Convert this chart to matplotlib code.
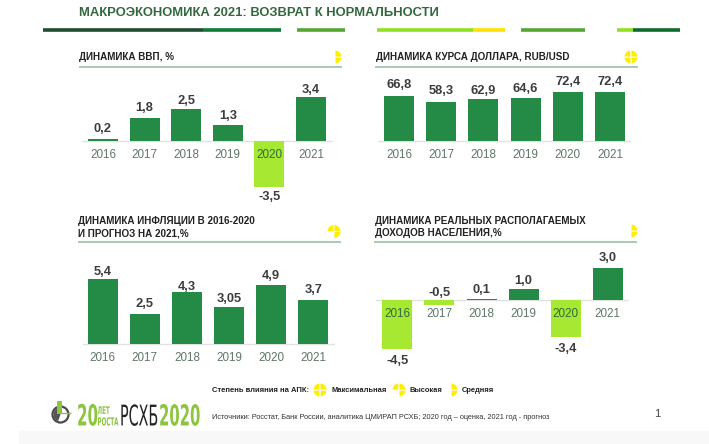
import matplotlib
matplotlib.use('Agg')
import matplotlib.pyplot as plt
import matplotlib.patheffects as pe
from matplotlib.patches import Wedge, Circle, Rectangle
from matplotlib.transforms import Affine2D

W, H = 709, 444

years = ['2016', '2017', '2018', '2019', '2020', '2021']
gdp = [0.2, 1.8, 2.5, 1.3, -3.5, 3.4]
usd = [66.8, 58.3, 62.9, 64.6, 72.4, 72.4]
inflation = [5.4, 2.5, 4.3, 3.05, 4.9, 3.7]
income = [-4.5, -0.5, 0.1, 1.0, -3.4, 3.0]

# сдвиг подписи от конца столбика, пиксели (плюс - вверх)
gdp_gaps = [10, 10, 7.6, 9, -10, 7]
usd_gaps = [10.6, 10.7, 7.7, 8.7, 10.3, 10.3]
inflation_gaps = [7.5, 10, 5.5, 8, 9, 10]
income_gaps = [-12, 12.7, 8.7, 8.3, -12, 10]

GREEN = '#238b45'
LIME = '#a6e832'
YELLOW = '#ffee00'
TXT = '#3c3c3c'
YEARC = '#5f7768'
HEAD = '#222222'

plt.rcParams['font.family'] = ['Liberation Sans', 'DejaVu Sans']

fig = plt.figure(figsize=(W / 100, H / 100), dpi=100, facecolor='white')

# слой в пикселях для заголовков, линеек и значков
bg = fig.add_axes([0, 0, 1, 1])
bg.set_xlim(0, W)
bg.set_ylim(H, 0)
bg.axis('off')


class StretchY(pe.AbstractPathEffect):
    # растягивает буквы по вертикали от базовой линии
    def __init__(self, y, k):
        super().__init__()
        self.y0 = H - y
        self.k = k

    def draw_path(self, renderer, gc, tpath, affine, rgbFace=None):
        stretch = Affine2D().translate(0, -self.y0).scale(1, self.k).translate(0, self.y0)
        renderer.draw_path(gc, tpath, affine + stretch, rgbFace)


def rule(x0, x1, y, color, lw=2.6):
    bg.plot([x0, x1], [y, y], color=color, lw=lw, solid_capstyle='butt')


def badge(x, y, quarters, r=7):
    # quarters: углы начала закрашенных четвертей
    for a in quarters:
        bg.add_patch(Wedge((x, y), r, a, a + 90, fc=YELLOW, ec='white', lw=0.7))


def logo_text(x, y, s, size, color, k, weight='bold'):
    bg.text(x, y, s, fontsize=size, color=color, fontweight=weight, va='baseline',
            family='Liberation Sans Narrow', path_effects=[StretchY(y, k)])


def panel(vals, gaps, x0, step, base, scale, line):
    # оси ставятся так, чтобы одна единица значения занимала scale пикселей
    top, bottom = 90, 70
    left, right = line
    ax = fig.add_axes([left / W, 1 - (base + bottom) / H, (right - left) / W, (top + bottom) / H])
    ax.set_ylim(-bottom / scale, top / scale)
    ax.set_xlim((left - x0) / step, (right - x0) / step)
    ax.axis('off')
    ax.patch.set_alpha(0)
    xs = range(len(vals))
    colors = [GREEN if v > 0 else LIME for v in vals]
    ax.bar(xs, vals, width=30 / step, color=colors, zorder=2)
    ax.axhline(0, color='#dfe3df', lw=1, zorder=1)
    for i, v in enumerate(vals):
        lab = str(v).replace('.', ',')
        ax.annotate(lab, (i, v), xytext=(0, gaps[i] * 0.72), textcoords='offset points', ha='center', va='center',
                    fontsize=9.3, fontweight='bold', color=TXT, annotation_clip=False)
        ax.annotate(years[i], (i, 0), xytext=(0, -14 * 0.72), textcoords='offset points', ha='center', va='center',
                    fontsize=8.4, color='#2f6b3c' if v < -1 else YEARC, zorder=3, annotation_clip=False)
    return ax


panel(gdp, gdp_gaps, 103, 41.6, 141.5, 13, (82, 333))
panel(usd, usd_gaps, 399, 42.2, 141.5, 0.68, (378, 631))
panel(inflation, inflation_gaps, 102.7, 42.1, 344, 12, (82.7, 335))
panel(income, income_gaps, 397.3, 42.1, 300, 10.8, (375.7, 629))

# шапка
bg.text(79, 13, 'МАКРОЭКОНОМИКА 2021: ВОЗВРАТ К НОРМАЛЬНОСТИ', fontsize=9.4, fontweight='bold',
        color='#33683f', va='center')
rule(43, 203, 30.5, '#1f4d30')
rule(203, 281, 30.5, '#0f7a35')
rule(297, 345, 30.5, '#55a630')
rule(377, 473, 30.5, '#8fe020')
rule(473, 505, 30.5, '#ffe000')
rule(521, 585, 30.5, '#55a630')
rule(617, 633, 30.5, '#8fe020')
rule(633, 680, 30.5, '#0f6b2d')

# заголовки панелей
for x, y, s in [(79, 57.5, 'ДИНАМИКА ВВП, %'),
                (376, 57.5, 'ДИНАМИКА КУРСА ДОЛЛАРА, RUB/USD'),
                (78, 220.5, 'ДИНАМИКА ИНФЛЯЦИИ В 2016-2020'),
                (78, 233, 'И ПРОГНОЗ НА 2021,%'),
                (375, 220.5, 'ДИНАМИКА РЕАЛЬНЫХ РАСПОЛАГАЕМЫХ'),
                (375, 233, 'ДОХОДОВ НАСЕЛЕНИЯ,%')]:
    bg.text(x, y, s, fontsize=7.1, fontweight='bold', color=HEAD, va='center')
for x0, x1, y in [(79, 342, 67), (375, 638, 67), (78, 341, 241.5), (374, 637, 241.5)]:
    rule(x0, x1, y, '#8dc09d', lw=1.1)

FULL = [0, 90, 180, 270]
HIGH = [0, 180, 270]
MID = [0, 270]
badge(335, 57, MID)
badge(631, 57, FULL)
badge(334, 231.5, HIGH)
badge(631, 231, MID)

# легенда
bg.text(212, 390, 'Степень влияния на АПК:', fontsize=5.5, fontweight='bold', color=HEAD, va='center')
badge(320, 390, FULL)
bg.text(331, 390, 'Максимальная', fontsize=5.4, fontweight='bold', color=HEAD, va='center')
badge(399, 390, HIGH)
bg.text(410, 390, 'Высокая', fontsize=5.4, fontweight='bold', color=HEAD, va='center')
badge(451, 390, MID)
bg.text(462, 390, 'Средняя', fontsize=5.4, fontweight='bold', color=HEAD, va='center')

# подвал
bg.add_patch(Rectangle((19, 431), W - 19, H - 431, fc='#f8f8f8', ec='none', zorder=0))
bg.text(212, 417.5, 'Источники: Росстат, Банк России, аналитика ЦМИРАП РСХБ; 2020 год – оценка, 2021 год - прогноз',
        fontsize=5.3, color='#333333', va='center')
bg.text(657, 414, '1', fontsize=8, color='#444444', ha='center', va='center')

# эмблема и надпись
bg.add_patch(Circle((60.5, 414.5), 8, fc='white', ec='#4a4a4a', lw=1.6))
bg.add_patch(Wedge((60.5, 414.5), 7, 110, 260, fc='#555555', ec='none'))
bg.add_patch(Rectangle((57, 401), 4.5, 13, fc='#8cc63f', ec='none'))
rule(61, 71, 413, '#8cc63f', lw=1)

logo_text(77, 425.5, '20', 10.9, '#8cc63f', 1.93)
logo_text(97.5, 414, 'ЛЕТ', 4, '#8cc63f', 1.9)
logo_text(97.5, 425.5, 'РОСТА', 4, '#8cc63f', 2.0)
logo_text(120, 425.5, 'РСХБ', 10.3, '#222222', 2.0, weight='normal')
logo_text(159, 425.5, '2020', 10.7, '#8cc63f', 1.95)

fig.savefig('out.png', dpi=100)
